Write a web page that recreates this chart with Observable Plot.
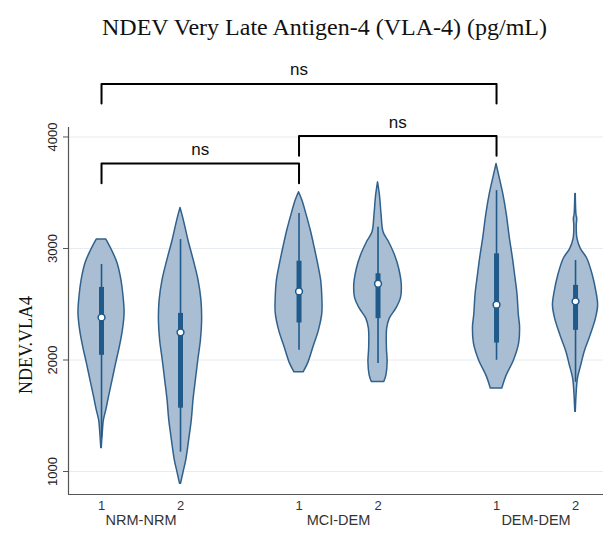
<!DOCTYPE html>
<html><head><meta charset="utf-8">
<script src="https://cdn.jsdelivr.net/npm/d3@7"></script>
<script src="https://cdn.jsdelivr.net/npm/@observablehq/plot@0.6"></script>
<style>
body{margin:0;background:#fff;}
#title{height:55px;box-sizing:border-box;padding-top:16px;padding-left:44px;text-align:center;font-family:"Liberation Serif","Times New Roman",serif;font-size:24px;line-height:23px;color:#111;white-space:nowrap;}
</style></head><body>
<div id="title">NDEV Very Late Antigen-4 (VLA-4) (pg/mL)</div>
<div id="chart"></div>
<script>
// ---- data ----
const groupNames = ["NRM-NRM", "MCI-DEM", "DEM-DEM"];
const violinGroup = [0, 0, 1, 1, 2, 2];
const subLabels = ["1", "2", "1", "2", "1", "2"];

// violin outlines: values (pg/mL) and relative density at each value
const profileValues = [
  [3080, 2982, 2866, 2714, 2561, 2418, 2266, 2114, 1970, 1818, 1667, 1550, 1460, 1370, 1210],
  [3364, 3250, 3072, 2893, 2714, 2535, 2356, 2177, 1998, 1819, 1640, 1461, 1282, 1103, 986, 890],
  [3504, 3430, 3313, 3161, 3009, 2866, 2714, 2561, 2418, 2266, 2114, 1970, 1890],
  [3593, 3474, 3295, 3146, 3056, 2937, 2818, 2669, 2550, 2460, 2371, 2281, 2102, 1982, 1863, 1803],
  [3758, 3653, 3489, 3300, 3100, 2900, 2750, 2594, 2400, 2296, 2147, 1998, 1849, 1744],
  [3489, 3300, 3266, 3200, 3087, 2997, 2908, 2758, 2609, 2490, 2371, 2221, 2072, 1953, 1834, 1714, 1535]
];
const profileDensity = [
  [0.20, 0.44, 0.67, 0.83, 0.92, 0.96, 0.89, 0.76, 0.61, 0.46, 0.31, 0.20, 0.10, 0.06, 0.01],
  [0.00, 0.14, 0.33, 0.55, 0.75, 0.87, 0.90, 0.85, 0.74, 0.64, 0.54, 0.47, 0.36, 0.24, 0.12, 0.02],
  [0.00, 0.14, 0.30, 0.49, 0.65, 0.79, 0.92, 0.97, 0.97, 0.83, 0.60, 0.38, 0.19],
  [0.00, 0.08, 0.15, 0.23, 0.46, 0.71, 0.88, 0.99, 0.95, 0.76, 0.49, 0.38, 0.37, 0.40, 0.35, 0.26],
  [0.00, 0.11, 0.28, 0.43, 0.55, 0.69, 0.78, 0.87, 0.93, 0.98, 0.94, 0.73, 0.40, 0.24],
  [0.01, 0.04, 0.07, 0.05, 0.08, 0.22, 0.49, 0.72, 0.87, 0.94, 0.85, 0.63, 0.38, 0.24, 0.10, 0.05, 0.01]
];

// box-plot statistics
const whiskerLow  = [1300, 1174, 2087, 1968, 1998, 1800];
const q1          = [2042, 1568, 2332, 2371, 2152, 2266];
const median      = [2382, 2248, 2615, 2684, 2496, 2526];
const q3          = [2651, 2418, 2886, 2773, 2952, 2669];
const whiskerHigh = [2857, 3080, 3313, 3191, 3519, 2893];

const yTicks = [1000, 2000, 3000, 4000];
const compFrom = [0, 0, 2];
const compTo = [4, 2, 4];
const compLabel = ["ns", "ns", "ns"];

// ---- layout ----
const FILL = "#a9bed2", EDGE = "#30618c", BOX = "#1f5a8a";
const HW = 0.304;           // max half-width of a violin in x units
const pos = i => violinGroup[i] * 2.5 + (i % 2);
const xDomain = [-0.418, 6.354];
const yDomain = [794, 4085];
const bracketLevel = [4476, 3762, 4008];
const leg = 176;

const idx = d3.range(6);
const rows = [];
profileValues.forEach((vals, i) => vals.forEach((v, k) => rows.push({i, v, d: profileDensity[i][k]})));

const comps = compFrom.map((a, j) => ({a, b: compTo[j], label: compLabel[j], lev: bracketLevel[j], j}));
const bracketPts = comps.flatMap(c => [
  {j: c.j, x: pos(c.a), y: c.lev - leg},
  {j: c.j, x: pos(c.a), y: c.lev},
  {j: c.j, x: pos(c.b), y: c.lev},
  {j: c.j, x: pos(c.b), y: c.lev - leg}
]);

const chart = Plot.plot({
  width: 605,
  height: 478,
  marginLeft: 68,
  marginRight: 2,
  marginTop: 72,
  marginBottom: 39,
  style: {fontFamily: "'Liberation Sans', Arial, sans-serif", fontSize: "12px", background: "white", overflow: "visible"},
  x: {domain: xDomain, axis: null},
  y: {domain: yDomain, axis: null},
  marks: [
    Plot.gridY(yTicks, {stroke: "#e6ecf1", strokeOpacity: 1}),
    Plot.areaX(rows, {
      y: "v",
      x1: r => pos(r.i) - r.d * HW,
      x2: r => pos(r.i) + r.d * HW,
      z: "i",
      fill: FILL, stroke: EDGE, strokeWidth: 1.5, curve: "catmull-rom"
    }),
    Plot.ruleX(idx, {x: pos, y1: i => whiskerLow[i], y2: i => whiskerHigh[i], stroke: BOX, strokeWidth: 1.6}),
    Plot.ruleX(idx, {x: pos, y1: i => q1[i], y2: i => q3[i], stroke: BOX, strokeWidth: 5}),
    Plot.dot(idx, {x: pos, y: i => median[i], r: 3.4, fill: "white", stroke: BOX, strokeWidth: 1.5}),
    Plot.ruleX([xDomain[0]], {stroke: "#555", strokeWidth: 1.2}),
    Plot.ruleY([yDomain[0]], {stroke: "#555", strokeWidth: 1.2}),
    Plot.axisY({ticks: yTicks, tickFormat: () => "", label: null, tickSize: 5, stroke: "#555"}),
    Plot.text(yTicks, {y: d => d, text: d => `${d}`, frameAnchor: "left", rotate: -90, dx: -16, textAnchor: "middle", fontSize: 13, fill: "#222"}),
    Plot.text(["NDEV.VLA4"], {text: d => d, frameAnchor: "left", rotate: -90, dx: -42, dy: 34, textAnchor: "middle", fontSize: 18, fontFamily: "'Liberation Serif', 'Times New Roman', serif", fill: "#111"}),
    Plot.text(idx, {x: pos, text: i => subLabels[i], frameAnchor: "bottom", dy: 15, fontSize: 13, fill: "#333"}),
    Plot.text(groupNames, {x: (d, g) => pos(2 * g) + 0.5, text: d => d, frameAnchor: "bottom", dy: 30, fontSize: 14.5, fill: "#333"}),
    Plot.line(bracketPts, {x: "x", y: "y", z: "j", stroke: "black", strokeWidth: 2}),
    Plot.text(comps, {x: c => (pos(c.a) + pos(c.b)) / 2, y: "lev", text: "label", dy: -14, fontSize: 17, fill: "#111"})
  ]
});
document.getElementById("chart").appendChild(chart);
</script></body></html>
